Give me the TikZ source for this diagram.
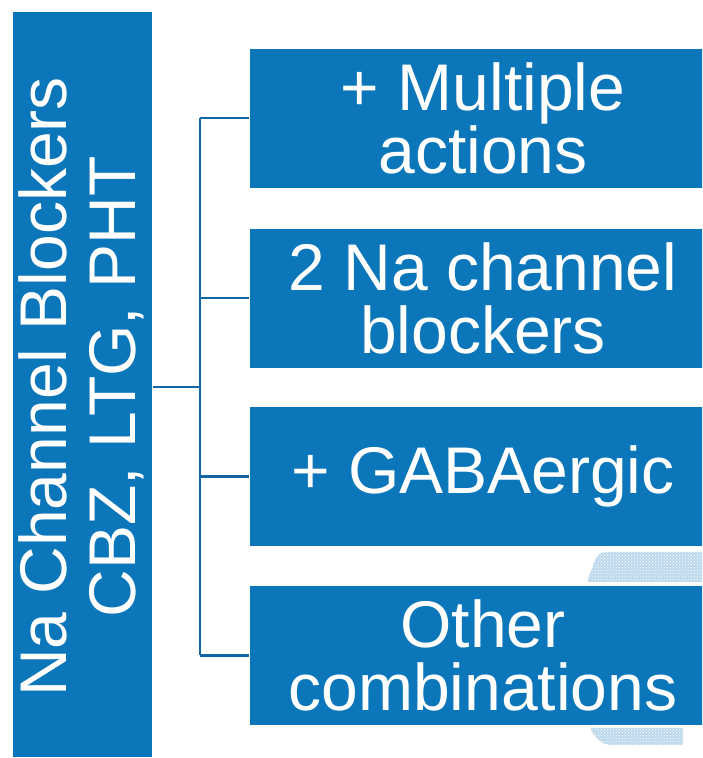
\documentclass[tikz,border=0pt]{standalone}
\usepackage{fontspec}
\setmainfont{Liberation Sans}
\usetikzlibrary{patterns}
\definecolor{boxblue}{HTML}{0B77BA}
\definecolor{lineblue}{HTML}{1167A5}
\definecolor{dotblue}{HTML}{BCD8EC}
\tikzset{
  bluebox/.style={fill=boxblue, draw=white, line width=0.6pt, text=white, align=center, inner sep=0pt},
  rbox/.style={bluebox, minimum width=468pt, minimum height=140pt, font=\fontsize{66}{63}\selectfont},
  conn/.style={draw=lineblue, line width=2.4pt},
  dotpatch/.style={fill=dotblue, pattern=crosshatch dots, pattern color=white}
}
\begin{document}
\begin{tikzpicture}[x=1pt,y=1pt]
\clip (0,0) rectangle (702,758);
\fill[white] (0,0) rectangle (702,758);
% dotted patches
\fill[dotblue] (588,176) -- (702,176) -- (702,206) -- (606,206) to[out=180,in=60] (588,180) -- cycle;
\path[pattern=crosshatch dots, pattern color=white] (588,176) -- (702,176) -- (702,206) -- (606,206) to[out=180,in=60] (588,180) -- cycle;
\fill[dotblue] (591,30) -- (683,30) -- (683,13) -- (612,13) to[out=180,in=-60] (591,28) -- cycle;
\path[pattern=crosshatch dots, pattern color=white] (591,30) -- (683,30) -- (683,13) -- (612,13) to[out=180,in=-60] (591,28) -- cycle;
% left box
\node[bluebox, minimum width=140pt, minimum height=746pt, anchor=south west] (L) at (12,0) {};
\node[rotate=90, text=white, align=center, font=\fontsize{66}{69}\selectfont] (Ltext) at (81,371) {Na Channel Blockers\\CBZ, LTG, PHT};
% right boxes
\node[rbox] (b1) at (483,640) {+ Multiple\\actions};
\node[rbox] (b2) at (483,460) {2 Na channel\\blockers};
\node[rbox] (b3) at (483,281.5) {+ GABAergic};
\node[rbox] (b4) at (483,102.5) {Other\\combinations};
% connectors
\coordinate (j) at (200,371);
\draw[conn] (L.east |- j) -- (j);
\draw[conn] (b1.west -| j) -- (b4.west -| j);
\draw[conn] (b1.west -| j) -- (b1.west);
\draw[conn] (b2.west -| j) -- (b2.west);
\draw[conn] (b3.west -| j) -- (b3.west);
\draw[conn] (b4.west -| j) -- (b4.west);
\end{tikzpicture}
\end{document}
